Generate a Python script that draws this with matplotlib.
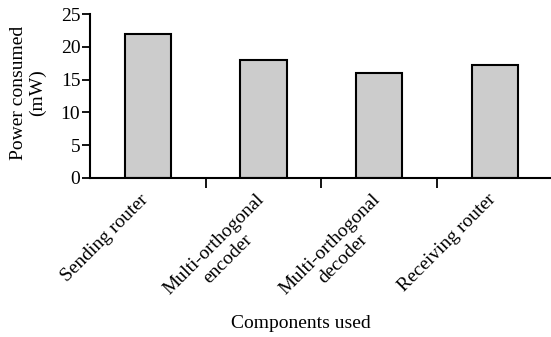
import matplotlib
matplotlib.use("Agg")
import matplotlib.pyplot as plt
import matplotlib.transforms as mtransforms
import numpy as np

categories = ["Sending router", "Multi-orthogonal\nencoder", "Multi-orthogonal\ndecoder", "Receiving router"]
power_mw = [22, 18, 16, 17.2]
yticks = [0, 5, 10, 15, 20, 25]

plt.rcParams['font.family'] = ['Liberation Serif', 'DejaVu Serif']
FS = 14

fig = plt.figure(figsize=(5.51, 3.37), dpi=100)
ax = fig.add_axes([90/551, 1-178/337, 1-90/551+0.003, (178-14)/337])

x = np.arange(len(categories))
ax.bar(x, power_mw, width=0.4, color='#cccccc', edgecolor='black', linewidth=1.5)

ax.set_xlim(-0.5, len(categories)-0.5)
ax.set_ylim(0, 25)
ax.set_yticks(yticks)
ax.tick_params(axis='y', direction='out', length=6, width=1.3, labelsize=FS, pad=1)

ax.set_xticks(x)
ax.set_xticklabels(categories, rotation=45, ha='right', va='top', rotation_mode='anchor',
                   multialignment='center', fontsize=FS)
ax.tick_params(axis='x', which='major', length=0, pad=8)
ax.set_xticks(np.arange(0.5, len(categories)-0.5, 1), minor=True)
ax.tick_params(axis='x', which='minor', direction='out', length=7, width=1.3)

offset = mtransforms.ScaledTranslation(-8/100, -2/100, fig.dpi_scale_trans)
for lbl in ax.get_xticklabels():
    lbl.set_transform(lbl.get_transform() + offset)

for s in ['top', 'right']:
    ax.spines[s].set_visible(False)
for s in ['left', 'bottom']:
    ax.spines[s].set_linewidth(1.5)

fig.text(28/551, 1-93/337, "Power consumed\n(mW)", rotation=90, ha='center', va='center',
         multialignment='center', fontsize=FS)
fig.text(301/551, 1-323/337, "Components used", ha='center', va='center', fontsize=FS)

fig.savefig("out.png", dpi=100)
